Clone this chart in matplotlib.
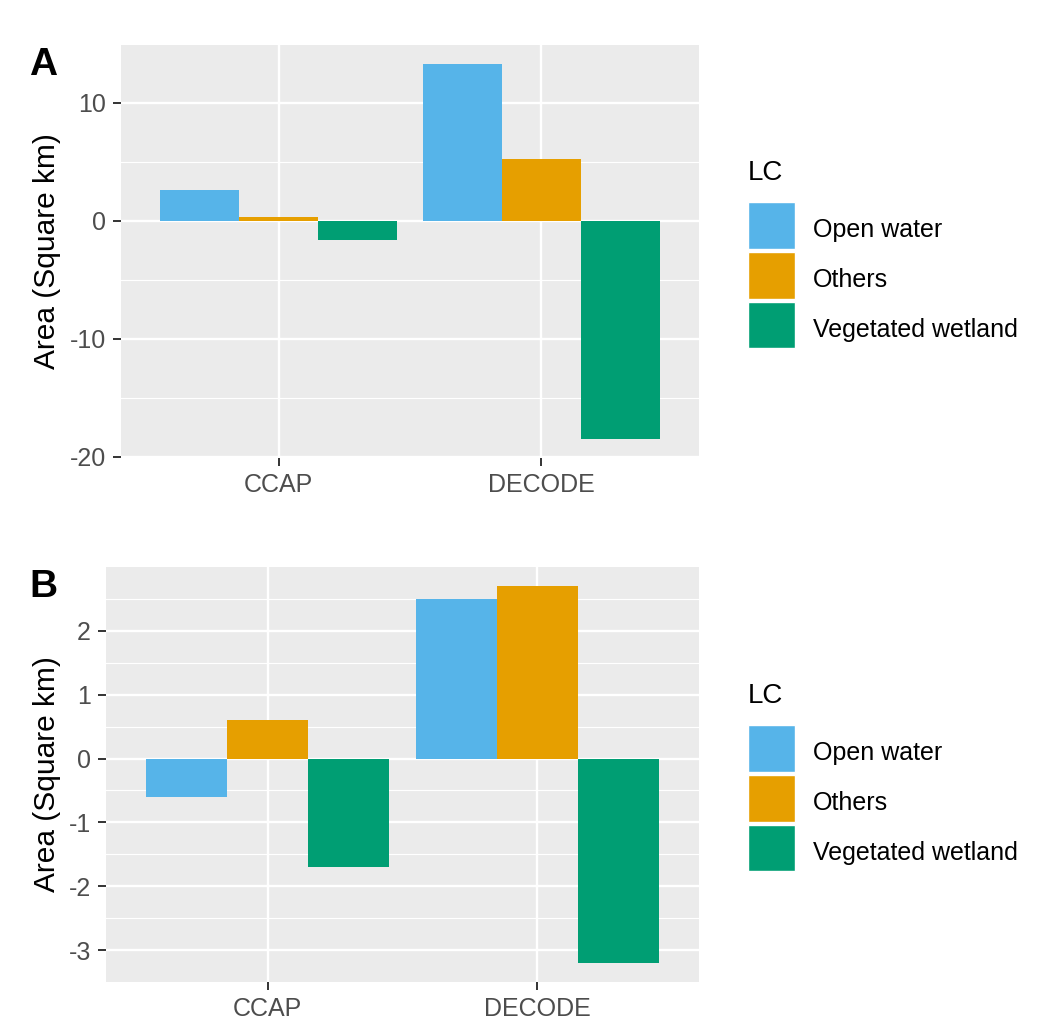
import numpy as np
import matplotlib
matplotlib.use("Agg")
from matplotlib import pyplot as plt
from matplotlib.patches import Patch, Rectangle
from matplotlib.legend_handler import HandlerPatch
from matplotlib.ticker import MultipleLocator, FuncFormatter

plt.rcParams['font.family'] = ['Liberation Sans', 'DejaVu Sans']

sources = ["CCAP", "DECODE"]
classes = ["Open water", "Others", "Vegetated wetland"]
colors = ["#56B4E9", "#E69F00", "#009E73"]

# area change (square km), one list per land-cover class, ordered as sources
area_a = {
    "Open water": [2.6, 13.3],
    "Others": [0.3, 5.25],
    "Vegetated wetland": [-1.6, -18.5],
}
area_b = {
    "Open water": [-0.6, 2.5],
    "Others": [0.6, 2.7],
    "Vegetated wetland": [-1.7, -3.2],
}

W, H = 1042, 1024
fig = plt.figure(figsize=(W / 100, H / 100), dpi=100)


def px_axes(left, top, right, bottom):
    return fig.add_axes([left / W, 1 - bottom / H, (right - left) / W, (bottom - top) / H])


def draw_panel(ax, data, major, minor):
    x = np.arange(len(sources))
    bw = 0.9 / len(classes)
    for i, (cls, col) in enumerate(zip(classes, colors)):
        ax.bar(x + (i - 1) * bw, data[cls], width=bw, color=col, zorder=3)
    allv = np.concatenate([data[c] for c in classes] + [[0]])
    lo, hi = allv.min(), allv.max()
    pad = (hi - lo) * 0.05
    ax.set_ylim(lo - pad, hi + pad)
    ax.set_xlim(-0.6, len(sources) - 0.4)
    ax.set_facecolor("#EBEBEB")
    ax.yaxis.set_major_locator(MultipleLocator(major))
    ax.yaxis.set_minor_locator(MultipleLocator(minor))
    ax.yaxis.set_major_formatter(FuncFormatter(lambda v, p: "%g" % v))
    ax.set_xticks(x)
    ax.set_xticklabels(sources)
    ax.grid(which="major", color="white", linewidth=1.7, zorder=0)
    ax.grid(which="minor", axis="y", color="white", linewidth=0.85, zorder=0)
    ax.set_axisbelow(True)
    for s in ax.spines.values():
        s.set_visible(False)
    ax.tick_params(which="major", length=5.8, width=1.4, color="#333333",
                   labelcolor="#4D4D4D", labelsize=18, pad=5)
    ax.tick_params(which="minor", length=0)


def ylabel(ax):
    bb = ax.get_position()
    ax.set_ylabel("Area (Square km)", fontsize=21.5, color="black", va="center")
    ax.yaxis.set_label_coords(47 / W, (bb.y0 + bb.y1) / 2, transform=fig.transFigure)


ax_a = px_axes(121, 45, 699, 458)
draw_panel(ax_a, area_a, 10, 5)
ylabel(ax_a)
ax_b = px_axes(106, 567, 699, 982)
draw_panel(ax_b, area_b, 1, 0.5)
ylabel(ax_b)

fig.text(29 / W, 1 - 75 / H, "A", fontsize=28, fontweight="bold", va="baseline", ha="left")
fig.text(29 / W, 1 - 597 / H, "B", fontsize=28, fontweight="bold", va="baseline", ha="left")


# legend key: square filling the handle box, nudged up a little
def key_patch(legend, orig_handle, xdescent, ydescent, width, height, fontsize):
    return Rectangle((-xdescent, -ydescent + 0.17 * fontsize), width, height)


handles = [Patch(facecolor=c, edgecolor="white", linewidth=1) for c in colors]
for dy in (0, 523):
    fig.text(748 / W, 1 - (180 + dy) / H, "LC", fontsize=20, va="baseline", ha="left")
    fig.legend(handles, classes, loc="upper left",
               bbox_to_anchor=(748 / W, 1 - (206 + dy) / H), frameon=False,
               fontsize=18, handlelength=1.88, handleheight=2.51,
               labelspacing=0.12, handletextpad=0.72, borderpad=0, borderaxespad=0,
               handler_map={Patch: HandlerPatch(patch_func=key_patch)})

fig.savefig("out.png", dpi=100)
